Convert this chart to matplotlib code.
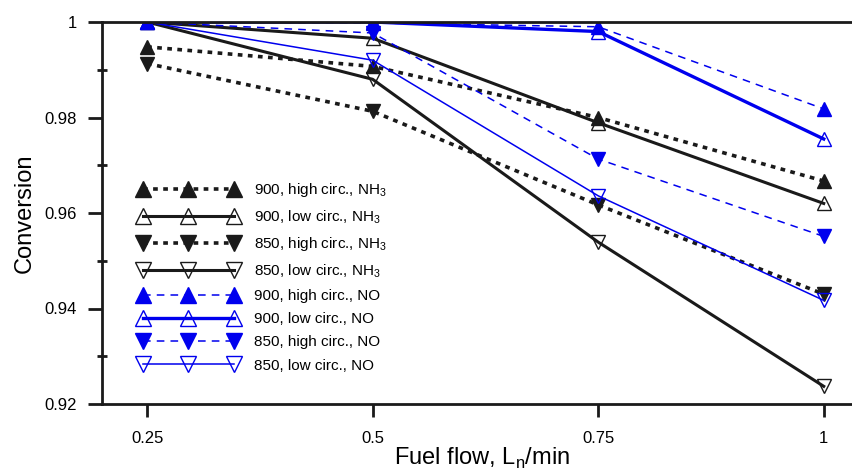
import matplotlib.pyplot as plt
from matplotlib.ticker import MultipleLocator

plt.rcParams['font.family'] = ['Liberation Sans', 'DejaVu Sans']
plt.rcParams['mathtext.fontset'] = 'custom'
plt.rcParams['mathtext.rm'] = 'Liberation Sans'

# fuel flow, Ln/min
fuel = [0.25, 0.5, 0.75, 1.0]
fuel_labels = ['0.25', '0.5', '0.75', '1']
conv_ticks = [0.92, 0.94, 0.96, 0.98, 1.0]
conv_labels = ['0.92', '0.94', '0.96', '0.98', '1']

# conversion values
nh3_900_high = [0.9948, 0.9907, 0.9800, 0.9667]
nh3_900_low = [1.0, 0.9966, 0.9789, 0.9620]
nh3_850_high = [0.9913, 0.9813, 0.9617, 0.9430]
nh3_850_low = [1.0, 0.9880, 0.9539, 0.9237]
no_900_high = [1.0, 0.9998, 0.9990, 0.9818]
no_900_low = [1.0, 1.0, 0.9980, 0.9755]
no_850_high = [1.0, 0.9977, 0.9713, 0.9551]
no_850_low = [1.0, 0.9920, 0.9636, 0.9417]

labels = ['900, high circ., NH$_3$', '900, low circ., NH$_3$',
          '850, high circ., NH$_3$', '850, low circ., NH$_3$',
          '900, high circ., NO', '900, low circ., NO',
          '850, high circ., NO', '850, low circ., NO']

blk = '#1a1a1a'
blu = '#0000ee'
dots = (0, (1.3, 1.5))
dash = (0, (5, 4))
series = [
    (nh3_900_high, blk, '^', True, dots, 2.6),
    (nh3_900_low, blk, '^', False, '-', 2.2),
    (nh3_850_high, blk, 'v', True, dots, 2.6),
    (nh3_850_low, blk, 'v', False, '-', 2.2),
    (no_900_high, blu, '^', True, dash, 1.1),
    (no_900_low, blu, '^', False, '-', 2.4),
    (no_850_high, blu, 'v', True, dash, 1.1),
    (no_850_low, blu, 'v', False, '-', 1.1),
]

fig = plt.figure(figsize=(8.53, 4.76), dpi=100)
# axes run a little past the right edge of the picture, as in the source
ax = fig.add_axes([102 / 853, 72 / 476, 760 / 853, 382 / 476])

for (y, c, m, filled, ls, lw), lab in zip(series, labels):
    ax.plot(fuel, y, color=c, linestyle=ls, linewidth=lw, marker=m,
            markersize=10, markeredgewidth=1.0, markeredgecolor=c,
            markerfacecolor=c if filled else 'none', label=lab)

ax.set_xlim(0.2, 1.0424)
ax.set_ylim(0.92, 1.0)
ax.set_xticks(fuel)
ax.set_xticklabels(fuel_labels)
ax.set_yticks(conv_ticks)
ax.set_yticklabels(conv_labels)
ax.yaxis.set_minor_locator(MultipleLocator(0.01))

ax.spines['right'].set_visible(False)
for s in ['left', 'bottom', 'top']:
    ax.spines[s].set_linewidth(2.0)
    ax.spines[s].set_color(blk)

ax.tick_params(axis='x', direction='out', length=9.5, width=2, pad=10,
               labelsize=12, color=blk)
ax.tick_params(axis='y', which='major', direction='out', length=10, width=2,
               pad=8, labelsize=12, color=blk)
ax.tick_params(axis='y', which='minor', direction='inout', length=7, width=2,
               color=blk)

ax.set_xlabel('Fuel flow, L$_\\mathregular{n}$/min', fontsize=17, labelpad=0)
ax.set_ylabel('Conversion', fontsize=17, labelpad=6)

leg = fig.legend(loc='upper left', bbox_to_anchor=(138 / 853, 1 - 181 / 476),
                 numpoints=3, handlelength=6.6, handletextpad=1.0,
                 labelspacing=0.6, borderpad=0, borderaxespad=0,
                 frameon=False, fontsize=11, markerscale=1.2)

fig.savefig('out.png', dpi=100)
